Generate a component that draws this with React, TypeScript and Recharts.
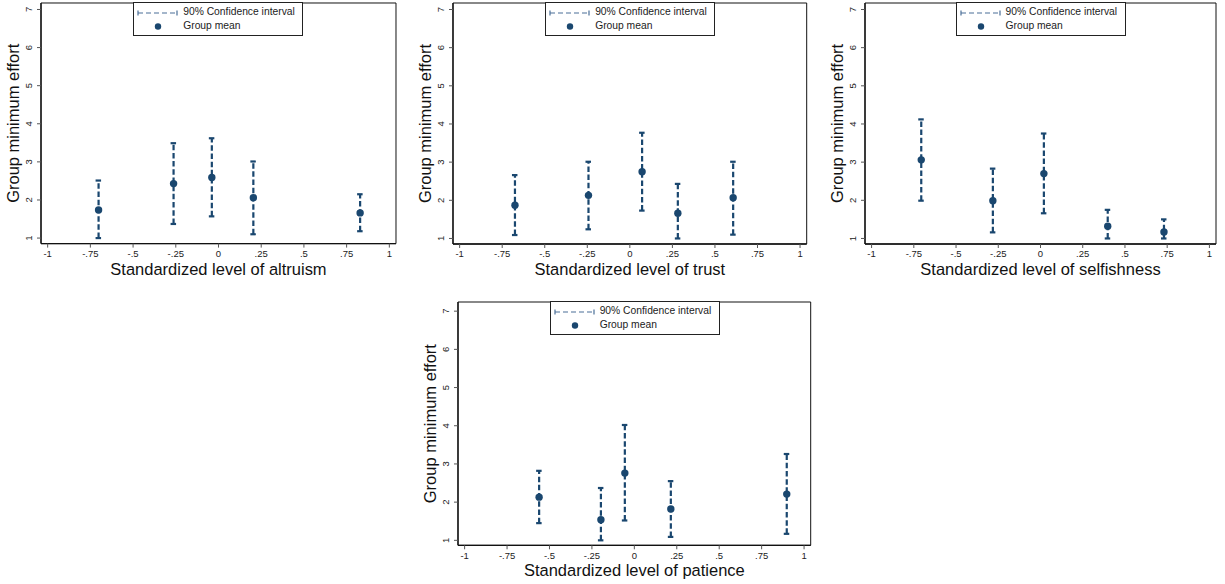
import { ErrorBar, ReferenceArea, Scatter, ScatterChart, XAxis, YAxis } from "recharts";

const xTicks = [-1, -0.75, -0.5, -0.25, 0, 0.25, 0.5, 0.75, 1];
const xTickLabels = ["-1", "-.75", "-.5", "-.25", "0", ".25", ".5", ".75", "1"];
const yTicks = [1, 2, 3, 4, 5, 6, 7];

const altruismX = [-0.702, -0.263, -0.039, 0.204, 0.829];
const altruismMean = [1.74, 2.43, 2.59, 2.06, 1.66];
const altruismLow = [1.0, 1.37, 1.57, 1.1, 1.18];
const altruismHigh = [2.51, 3.49, 3.62, 3.01, 2.15];

const trustX = [-0.675, -0.243, 0.072, 0.282, 0.607];
const trustMean = [1.87, 2.13, 2.75, 1.66, 2.07];
const trustLow = [1.09, 1.24, 1.73, 1.0, 1.1];
const trustHigh = [2.66, 3.01, 3.77, 2.43, 3.01];

const selfX = [-0.706, -0.282, 0.02, 0.398, 0.731];
const selfMean = [3.06, 1.99, 2.7, 1.32, 1.17];
const selfLow = [1.99, 1.16, 1.66, 1.0, 1.0];
const selfHigh = [4.12, 2.83, 3.75, 1.75, 1.5];

const patienceX = [-0.561, -0.197, -0.056, 0.215, 0.898];
const patienceMean = [2.13, 1.54, 2.76, 1.82, 2.21];
const patienceLow = [1.45, 1.0, 1.52, 1.09, 1.17];
const patienceHigh = [2.82, 2.37, 4.02, 2.55, 3.26];

const NAVY = "#1a476f";
const FONT = "'Liberation Sans', Arial, Helvetica, sans-serif";
const X_DOMAIN: [number, number] = [-1.039, 1.039];

const YW = 44;
const XH = 40;
const MT = 4;
const MR = 8;

function YTick(props: any) {
  const { x, y, payload } = props;
  const cx = x - 6.4;
  return (
    <text
      x={cx}
      y={y}
      dy="0.35em"
      textAnchor="middle"
      fontSize={9.5}
      fill="#222"
      fontFamily={FONT}
      transform={`rotate(-90 ${cx} ${y})`}
    >
      {payload.value}
    </text>
  );
}

function LegendBox({ left, top }: { left: number; top: number }) {
  return (
    <div
      style={{
        position: "absolute",
        left,
        top,
        width: 170,
        height: 34,
        boxSizing: "border-box",
        border: "1px solid #222",
        background: "#fff",
        fontFamily: FONT,
        fontSize: 10.3,
        color: "#222",
      }}
    >
      <svg width={46} height={34} style={{ position: "absolute", left: 0, top: 0 }}>
        <line x1={4} y1={10} x2={43} y2={10} stroke="#4a6f98" strokeWidth={1.2} strokeDasharray="5 3" />
        <line x1={4} y1={7.5} x2={4} y2={12.5} stroke="#4a6f98" strokeWidth={1.2} />
        <line x1={43} y1={7.5} x2={43} y2={12.5} stroke="#4a6f98" strokeWidth={1.2} />
        <circle cx={24} cy={23.5} r={3.2} fill={NAVY} />
      </svg>
      <div style={{ position: "absolute", left: 49, top: 3.5, whiteSpace: "nowrap" }}>90% Confidence interval</div>
      <div style={{ position: "absolute", left: 49, top: 17, whiteSpace: "nowrap" }}>Group mean</div>
    </div>
  );
}

type PanelProps = {
  left: number;
  top: number;
  width: number;
  height: number;
  title: string;
  xs: number[];
  means: number[];
  lows: number[];
  highs: number[];
  yDomain: [number, number];
};

function Panel({ left, top, width, height, title, xs, means, lows, highs, yDomain }: PanelProps) {
  const rows = xs.map((x, i) => ({
    x,
    y: means[i],
    ci: [means[i] - lows[i], highs[i] - means[i]],
  }));

  return (
    <>
      <div style={{ position: "absolute", left: left - YW, top: top - MT }}>
        <ScatterChart
          width={YW + width + MR}
          height={MT + height + XH}
          margin={{ top: MT, right: MR, left: 0, bottom: 0 }}
        >
          <ReferenceArea
            x1={X_DOMAIN[0]}
            x2={X_DOMAIN[1]}
            y1={yDomain[0]}
            y2={yDomain[1]}
            fill="none"
            fillOpacity={0}
            stroke="#111"
            strokeWidth={1}
            ifOverflow="visible"
          />
          <XAxis
            type="number"
            dataKey="x"
            domain={X_DOMAIN}
            ticks={xTicks}
            allowDataOverflow
            height={XH}
            tickSize={4}
            tickMargin={2.5}
            tickFormatter={(v: number) => xTickLabels[xTicks.indexOf(v)] ?? String(v)}
            tick={{ fill: "#222", fontSize: 9.5, fontFamily: FONT }}
            tickLine={{ stroke: "#555" }}
            axisLine={{ stroke: "#111", strokeWidth: 1.3 }}
            label={{
              value: title,
              position: "insideBottom",
              offset: 9,
              fontSize: 16.5,
              fill: "#111",
              fontFamily: FONT,
            }}
          />
          <YAxis
            type="number"
            dataKey="y"
            domain={yDomain}
            ticks={yTicks}
            allowDataOverflow
            width={YW}
            tickSize={4}
            tickMargin={2}
            tick={<YTick />}
            tickLine={{ stroke: "#555" }}
            axisLine={{ stroke: "#111", strokeWidth: 1.3 }}
            label={{
              value: "Group minimum effort",
              angle: -90,
              position: "insideLeft",
              offset: YW - 27.4,
              fontSize: 16.5,
              fill: "#111",
              fontFamily: FONT,
              style: { textAnchor: "middle" },
            }}
          />
          <Scatter
            data={rows}
            isAnimationActive={false}
            fill={NAVY}
            shape={(p: any) => <circle cx={p.cx} cy={p.cy} r={3.7} fill={NAVY} />}
          >
            <ErrorBar
              dataKey="ci"
              direction="y"
              width={3}
              stroke={NAVY}
              strokeWidth={2.2}
              strokeDasharray="5.5 2.7"
              isAnimationActive={false}
            />
          </Scatter>
        </ScatterChart>
      </div>
      <LegendBox left={left + width / 2 - 85} top={top - 1} />
    </>
  );
}

export default function App() {
  const topDomain: [number, number] = [0.855, 7.17];
  return (
    <div
      style={{
        position: "absolute",
        left: 0,
        top: 0,
        width: 1225,
        height: 584,
        background: "#fff",
        overflow: "hidden",
      }}
    >
      <Panel
        left={40.7}
        top={2.7}
        width={355}
        height={240.6}
        title="Standardized level of altruism"
        xs={altruismX}
        means={altruismMean}
        lows={altruismLow}
        highs={altruismHigh}
        yDomain={topDomain}
      />
      <Panel
        left={453.3}
        top={2.7}
        width={353.7}
        height={241}
        title="Standardized level of trust"
        xs={trustX}
        means={trustMean}
        lows={trustLow}
        highs={trustHigh}
        yDomain={topDomain}
      />
      <Panel
        left={865}
        top={2.7}
        width={351}
        height={241}
        title="Standardized level of selfishness"
        xs={selfX}
        means={selfMean}
        lows={selfLow}
        highs={selfHigh}
        yDomain={topDomain}
      />
      <Panel
        left={458.3}
        top={301.7}
        width={352.7}
        height={243.3}
        title="Standardized level of patience"
        xs={patienceX}
        means={patienceMean}
        lows={patienceLow}
        highs={patienceHigh}
        yDomain={[0.87, 7.24]}
      />
    </div>
  );
}
